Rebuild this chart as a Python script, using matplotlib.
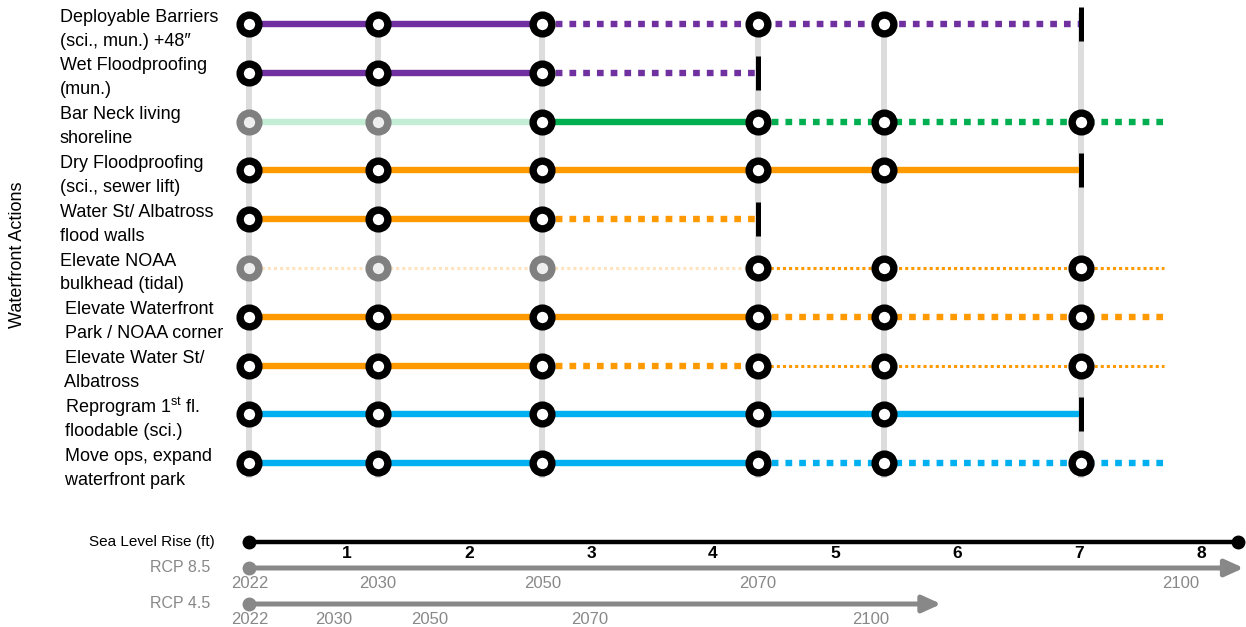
import matplotlib.pyplot as plt

plt.rcParams['font.family'] = ['Liberation Sans', 'DejaVu Sans']
plt.rcParams['mathtext.fontset'] = 'custom'
plt.rcParams['mathtext.rm'] = 'Liberation Sans'

# decision columns (sea level rise, ft) and where open pathways run out to
cols = [0.2, 1.25, 2.6, 4.37, 5.4, 7.02]
tail = 7.7

actions = [
    ("Deployable Barriers", "(sci., mun.) +48\u2033"),
    ("Wet Floodproofing", "(mun.)"),
    ("Bar Neck living", "shoreline"),
    ("Dry Floodproofing", "(sci., sewer lift)"),
    ("Water St/ Albatross", "flood walls"),
    ("Elevate NOAA", "bulkhead (tidal)"),
    (" Elevate Waterfront", " Park / NOAA corner"),
    (" Elevate Water St/", " Albatross"),
    (" Reprogram 1$^{\\mathrm{st}}$ fl.", " floodable (sci.)"),
    (" Move ops, expand", " waterfront park"),
]
colors = ["#7030A0", "#7030A0", "#00B050", "#FF9900", "#FF9900",
          "#FF9900", "#FF9900", "#FF9900", "#00B0F0", "#00B0F0"]
faint = {"#00B050": "#C4EDD5", "#FF9900": "#FFE3BE"}

# segments: (from column, to column or "tail", style)
segments = [
    [(0, 2, "solid"), (2, 5, "dot")],
    [(0, 2, "solid"), (2, 3, "dot")],
    [(0, 2, "faint"), (2, 3, "solid"), (3, "tail", "dot")],
    [(0, 5, "solid")],
    [(0, 2, "solid"), (2, 3, "dot")],
    [(0, 3, "faintthin"), (3, "tail", "thin")],
    [(0, 3, "solid"), (3, "tail", "dot")],
    [(0, 2, "solid"), (2, 3, "dot"), (3, "tail", "thin")],
    [(0, 5, "solid")],
    [(0, 3, "solid"), (3, "tail", "dot")],
]
black_nodes = [[0, 1, 2, 3, 4], [0, 1, 2], [2, 3, 4, 5], [0, 1, 2, 3, 4], [0, 1, 2],
               [3, 4, 5], [0, 1, 2, 3, 4, 5], [0, 1, 2, 3, 4, 5], [0, 1, 2, 3, 4],
               [0, 1, 2, 3, 4, 5]]
gray_nodes = [[], [], [0, 1], [], [], [0, 1, 2], [], [], [], []]
end_bars = [5, 3, None, 5, 3, None, None, None, 5, None]

slr_ticks = [1, 2, 3, 4, 5, 6, 7, 8]
slr_range = (0.2, 8.3)
rcp85_years = ["2022", "2030", "2050", "2070", "2100"]
rcp85_pos = [0.2, 1.25, 2.6, 4.37, 7.83]
rcp85_end = 8.35
rcp45_years = ["2022", "2030", "2050", "2070", "2100"]
rcp45_pos = [0.2, 0.89, 1.68, 2.99, 5.29]
rcp45_end = 5.87

X0, XS = 225, 122      # px of 0 ft, px per ft
Y0, YS = 24, 48.8      # px of first row, px per row

fig = plt.figure(figsize=(12.46, 6.27), dpi=100)
ax = fig.add_axes([0, 0, 1, 1])
ax.set_xlim(-X0 / XS, (1246 - X0) / XS)
ax.set_ylim((627 - Y0) / YS, -Y0 / YS)
ax.axis("off")

def px_x(p):
    return (p - X0) / XS

def px_y(p):
    return (p - Y0) / YS

n = len(actions)
for c in cols:
    ax.plot([c, c], [-0.22, n - 1 + 0.3], color="#DDDDDD", lw=4.3, zorder=1,
            solid_capstyle="butt")

styles = {
    "solid": dict(lw=4.6, ls="-"),
    "faint": dict(lw=4.6, ls="-"),
    "dot": dict(lw=4.6, ls=(0, (1.05, 1.1))),
    "thin": dict(lw=2.2, ls=(0, (1, 1))),
    "faintthin": dict(lw=2.2, ls=(0, (1, 1))),
}

for i in range(n):
    col = colors[i]
    for a, b, st in segments[i]:
        x1 = tail if b == "tail" else cols[b]
        c = faint[col] if st.startswith("faint") else col
        ax.plot([cols[a], x1], [i, i], color=c, solid_capstyle="butt",
                dash_capstyle="butt", zorder=2, **styles[st])
    for k in black_nodes[i]:
        ax.plot(cols[k], i, "o", ms=13.5, mew=5.3, mec="black", mfc="white", zorder=4)
    for k in gray_nodes[i]:
        ax.plot(cols[k], i, "o", ms=13.5, mew=5.3, mec="#808080", mfc="#EEEEEE", zorder=4)
    if end_bars[i] is not None:
        ax.plot([cols[end_bars[i]]] * 2, [i - 0.35, i + 0.35], color="black", lw=3.6,
                solid_capstyle="butt", zorder=5)
    top, bottom = actions[i]
    ax.text(px_x(60), i - 7 / YS, top, ha="left", va="center", fontsize=13)
    ax.text(px_x(60), i + 17 / YS, bottom, ha="left", va="center", fontsize=13)

ax.text(px_x(18), px_y(255), "Waterfront Actions", rotation=90, ha="center",
        va="center", fontsize=13)

narrow = ["Liberation Sans Narrow", "Liberation Sans", "DejaVu Sans"]

# sea level rise axis
y_slr = px_y(542)
ax.plot(slr_range, [y_slr, y_slr], color="black", lw=3.2, zorder=2)
ax.plot(slr_range, [y_slr, y_slr], "o", color="black", ms=9, zorder=3)
ax.text(px_x(215), y_slr, "Sea Level Rise (ft)", ha="right", va="center",
        fontsize=11, family=narrow)
for t in slr_ticks:
    ax.text(t, px_y(553), str(t), ha="center", va="center", fontsize=12.5,
            family=narrow, fontweight="bold")

gray = "#888888"
for name, yl, yr, years, pos, end in [("RCP 8.5", 568, 583, rcp85_years, rcp85_pos, rcp85_end),
                                      ("RCP 4.5", 604, 619, rcp45_years, rcp45_pos, rcp45_end)]:
    yy = px_y(yl)
    ax.annotate("", xy=(end, yy), xytext=(pos[0], yy),
                arrowprops=dict(arrowstyle="-|>,head_length=1.1,head_width=0.5",
                                lw=3.6, color=gray, shrinkA=0, shrinkB=0))
    ax.plot(pos[0], yy, "o", color=gray, ms=9, zorder=3)
    ax.text(px_x(210), yy, name, ha="right", va="center", fontsize=11.5,
            color=gray, family=narrow)
    for lab, p in zip(years, pos):
        ax.text(p, px_y(yr), lab, ha="center", va="center", fontsize=12,
                color=gray, family=narrow)

fig.savefig("out.png", dpi=100)
